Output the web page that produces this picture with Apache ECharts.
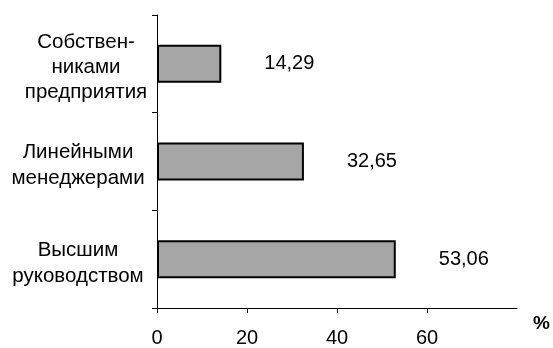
<!DOCTYPE html>
<html><head><meta charset="utf-8">
<script src="https://cdn.jsdelivr.net/npm/echarts@6/dist/echarts.min.js"></script>
<style>html,body{margin:0;padding:0;background:#fff}#c{width:553px;height:348px}</style>
</head><body><div id="c"></div>
<script>
// categories listed bottom to top
const categories = ['Высшим\nруководством', 'Линейными\nменеджерами', 'Собствен-\nниками\nпредприятия'];
const values = [53.06, 32.65, 14.29];
const xTicks = [0, 20, 40, 60, 80];
const unitLabel = '%';

const FONT = '"Liberation Sans", Arial, sans-serif';
const chart = echarts.init(document.getElementById('c'), null, {renderer: 'canvas'});
chart.setOption({
  animation: false,
  backgroundColor: '#fff',
  grid: {left: 157, right: 36, top: 15, bottom: 36, containLabel: false},
  xAxis: {
    type: 'value', min: xTicks[0], max: xTicks[xTicks.length - 1], interval: xTicks[1] - xTicks[0],
    name: unitLabel, nameLocation: 'end', nameGap: 16,
    nameTextStyle: {fontFamily: FONT, fontSize: 19, fontWeight: 'bold', color: '#000', verticalAlign: 'top', padding: [6, 0, 0, 0]},
    axisLine: {show: true, lineStyle: {color: '#000', width: 1}},
    axisTick: {show: true, length: 5, lineStyle: {color: '#000'}},
    axisLabel: {showMaxLabel: false, margin: 20, fontFamily: FONT, fontSize: 20, color: '#000'},
    splitLine: {show: false}
  },
  yAxis: {
    type: 'category', data: categories,
    axisLine: {show: true, lineStyle: {color: '#000', width: 1}},
    axisTick: {show: true, length: 5, lineStyle: {color: '#000'}},
    axisLabel: {
      margin: 7, fontFamily: FONT, fontSize: 20.5, color: '#000', align: 'right', padding: [8, 0, 0, 0],
      formatter: (v, i) => v.split('\n').map(l => (i === 2 ? '{a|' : '{b|') + l + '}').join('\n'),
      rich: {
        a: {width: 128, align: 'center', fontFamily: FONT, fontSize: 20.5, lineHeight: 25, color: '#000'},
        b: {width: 144, align: 'center', fontFamily: FONT, fontSize: 20.5, lineHeight: 26, color: '#000'}
      }
    },
    splitLine: {show: false}
  },
  series: [{
    type: 'bar', data: values, barWidth: 38,
    itemStyle: {color: '#a6a6a6', borderColor: '#000', borderWidth: 2},
    label: {
      show: true, position: 'right', distance: 43,
      fontFamily: FONT, fontSize: 20, color: '#000',
      formatter: p => p.value.toFixed(2).replace('.', ',')
    }
  }]
});
</script></body></html>
